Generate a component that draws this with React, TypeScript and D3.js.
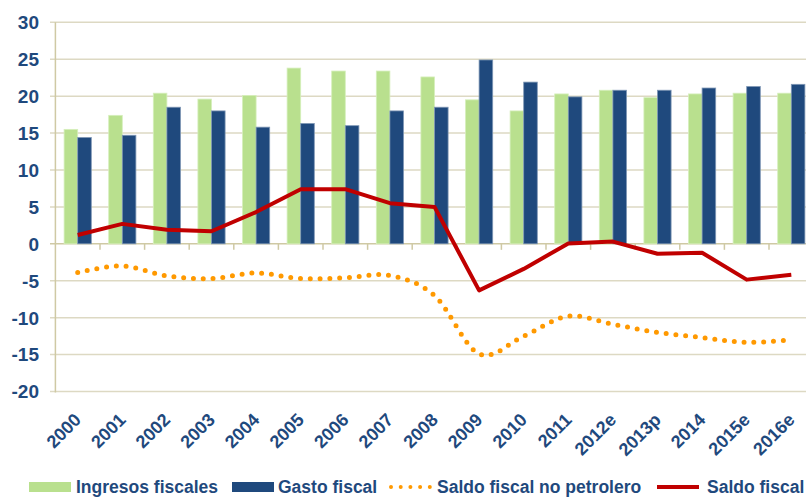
import * as d3 from "d3";

const years = ["2000", "2001", "2002", "2003", "2004", "2005", "2006", "2007", "2008", "2009", "2010", "2011", "2012e", "2013p", "2014", "2015e", "2016e"];
const ingresos = [15.5, 17.4, 20.4, 19.6, 20.1, 23.8, 23.4, 23.4, 22.6, 19.5, 18.0, 20.3, 20.8, 19.8, 20.3, 20.4, 20.4];
const gasto = [14.4, 14.7, 18.5, 18.0, 15.8, 16.3, 16.0, 18.0, 18.5, 24.9, 21.9, 19.9, 20.8, 20.8, 21.1, 21.3, 21.6];
const saldoNoPetrolero = [-3.9, -3.0, -4.35, -4.7, -3.95, -4.7, -4.6, -4.3, -7.0, -14.9, -12.5, -9.8, -10.9, -12.0, -12.7, -13.35, -13.0];
const saldo = [1.2, 2.7, 1.9, 1.7, 4.3, 7.4, 7.4, 5.5, 5.0, -6.3, -3.4, 0.05, 0.3, -1.35, -1.2, -4.85, -4.2];
const yTicks = [-20, -15, -10, -5, 0, 5, 10, 15, 20, 25, 30];

const W = 806;
const H = 498;
const GREEN = "#b9e08e";
const BLUE = "#1f497d";
const RED = "#c00000";
const ORANGE = "#ff9900";
const TEXT = "#1f497d";
const GRID = "#ddd9c3";
const AXIS = "#cfc9a4";
const FONT = "'Liberation Sans', Arial, sans-serif";

export default function App() {
  const x = d3.scaleBand().domain(years).range([55.4, 813.6]).padding(0);
  const x1 = d3.scaleBand().domain(["ing", "gas"]).range([0, x.bandwidth()]).paddingInner(0).paddingOuter(0.64);
  const y = d3.scaleLinear().domain([-20, 30]).range([391.5, 22.3]);
  const cx = (i: number) => (x(years[i]) as number) + x.bandwidth() / 2;

  const saldoLine = d3.line<number>().x((_, i) => cx(i)).y((d) => y(d));
  const noPetLine = d3
    .line<number>()
    .x((_, i) => cx(i))
    .y((d) => y(d))
    .curve(d3.curveCatmullRom.alpha(0));

  const left = 55.4;
  const y0 = y(0);

  const legend = [
    { x: 29, tx: 76, label: "Ingresos fiscales", kind: "green" },
    { x: 232, tx: 278, label: "Gasto fiscal", kind: "blue" },
    { x: 390, tx: 437, label: "Saldo fiscal no petrolero", kind: "dots" },
    { x: 657, tx: 707, label: "Saldo fiscal", kind: "red" },
  ];

  return (
    <svg width={W} height={H} style={{ position: "absolute", left: 0, top: 0, background: "#fff" }} fontFamily={FONT}>
      {/* grid + y ticks */}
      {yTicks.map((t) => (
        <g key={t}>
          <line x1={50} x2={W} y1={y(t)} y2={y(t)} stroke={t === 0 ? AXIS : GRID} strokeWidth={1.5} />
          <text x={39} y={y(t)} dy="0.36em" textAnchor="end" fontSize={19} fontWeight="bold" fill={TEXT}>
            {t}
          </text>
        </g>
      ))}
      <line x1={left} x2={left} y1={y(30)} y2={y(-20) + 1} stroke={AXIS} strokeWidth={1.5} />

      {/* bars */}
      {years.map((yr, i) => (
        <g key={yr} transform={`translate(${x(yr)},0)`}>
          <rect
            x={x1("ing")}
            width={x1.bandwidth()}
            y={y(ingresos[i])}
            height={y0 - y(ingresos[i])}
            fill={GREEN}
            stroke="#d6efbc"
            strokeWidth={0.8}
          />
          <rect
            x={x1("gas")}
            width={x1.bandwidth()}
            y={y(gasto[i])}
            height={y0 - y(gasto[i])}
            fill={BLUE}
            stroke="#7f97b5"
            strokeWidth={0.8}
          />
        </g>
      ))}

      {/* x axis ticks */}
      {years.map((yr, i) =>
        i === 0 ? null : (
          <line key={yr} x1={x(yr)} x2={x(yr)} y1={y0} y2={y0 + 6} stroke={AXIS} strokeWidth={1.5} />
        )
      )}

      {/* lines */}
      <path
        d={noPetLine(saldoNoPetrolero) || ""}
        fill="none"
        stroke={ORANGE}
        strokeWidth={5}
        strokeLinecap="round"
        strokeDasharray="0 9.8"
      />
      <path d={saldoLine(saldo) || ""} fill="none" stroke={RED} strokeWidth={4} strokeLinejoin="round" />

      {/* x labels */}
      {years.map((yr, i) => (
        <text
          key={yr}
          transform={`translate(${cx(i) + 4.5},421) rotate(-45)`}
          textAnchor="end"
          fontSize={18}
          fontWeight="bold"
          fill={TEXT}
        >
          {yr}
        </text>
      ))}

      {/* legend */}
      {legend.map((l) => (
        <g key={l.label}>
          {l.kind === "green" && <rect x={l.x} y={482} width={42} height={10} fill={GREEN} />}
          {l.kind === "blue" && <rect x={l.x} y={482} width={42} height={10} fill={BLUE} />}
          {l.kind === "dots" && (
            <line
              x1={l.x + 1}
              x2={l.x + 40}
              y1={487}
              y2={487}
              stroke={ORANGE}
              strokeWidth={4}
              strokeLinecap="round"
              strokeDasharray="0 9.7"
            />
          )}
          {l.kind === "red" && <line x1={l.x} x2={l.x + 42} y1={487} y2={487} stroke={RED} strokeWidth={4} />}
          <text x={l.tx} y={493} fontSize={17.5} fontWeight="bold" fill={TEXT}>
            {l.label}
          </text>
        </g>
      ))}
    </svg>
  );
}
